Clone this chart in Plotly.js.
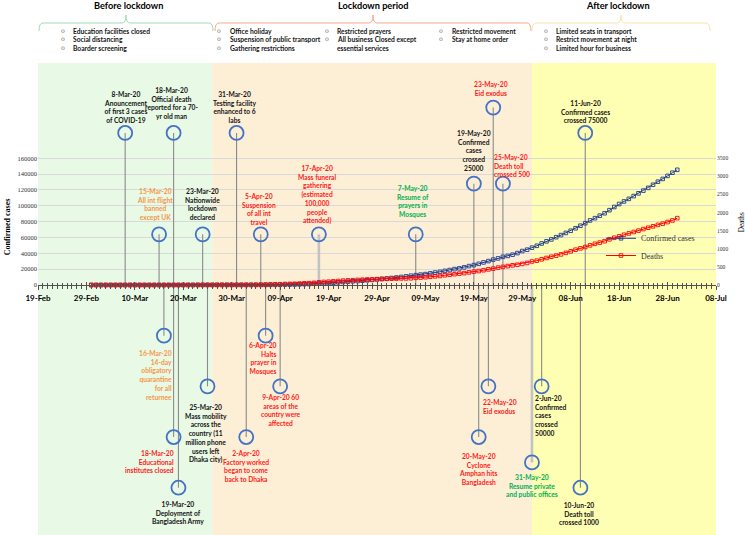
<!DOCTYPE html>
<html><head><meta charset="utf-8">
<script src="https://cdn.plot.ly/plotly-3.0.1.min.js"></script>
<style>html,body{margin:0;padding:0;background:#fff}#chart{width:745px;height:535px}</style>
</head><body><div id="chart"></div>
<script>
// ---------------- DATA ----------------
const seriesStart = '2020-03-01';
const confirmedCases = [
  0,0,0,0,0,0,0,
  3,3,3,3,3,3,3,
  5,8,10,14,17,20,24,
  27,33,39,39,44,48,48,48,49,51,
  54,56,61,70,88,123,164,218,330,424,
  482,621,803,1012,1231,1572,1838,2144,2456,2948,
  3382,3772,4186,4689,4998,5416,5913,6462,7103,7667,
  8238,8790,9455,10143,10929,11719,12425,13134,13770,14657,
  15691,16660,17822,18863,20065,20995,22268,23870,25121,26738,
  28511,30205,32078,33610,35585,36751,38292,40321,42844,44608,47153,
  49534,52445,55140,57563,60391,63026,65769,68504,71675,74865,
  78052,81523,84379,87520,90619,94481,98489,102292,105535,108775,
  112306,115786,119198,122660,126606,130474,133978,137787,141801,145483
];
const deaths = [
  0,0,0,0,0,0,0,0,0,0,0,0,0,0,0,0,0,
  1,1,1,2,2,3,4,5,5,5,5,5,5,5,
  6,6,6,8,9,12,17,20,21,27,
  30,34,39,46,50,60,75,84,91,101,
  110,120,127,131,140,145,152,155,163,168,
  170,175,177,182,183,186,199,206,214,228,
  239,250,269,283,298,314,328,349,370,386,
  408,432,452,480,501,522,544,559,582,610,650,
  672,709,746,781,811,846,888,930,975,1012,
  1049,1095,1139,1171,1209,1262,1305,1343,1388,1425,
  1464,1502,1545,1582,1621,1661,1695,1738,1783,1847
];
const seriesNames = ['Confirmed cases', 'Deaths'];
const axisStart = '2020-02-19';
const axisEnd = '2020-07-08';
const casesTicks = [0,20000,40000,60000,80000,100000,120000,140000,160000];
const deathsTicks = [0,500,1000,1500,2000,2500,3000,3500];
const yTitleLeft = 'Confirmed cases';
const yTitleRight = 'Deaths';

const phaseNames = ['Before lockdown', 'Lockdown period', 'After lockdown'];
const phaseBounds = ['2020-02-19', '2020-03-26', '2020-05-31', '2020-07-08'];
const measureColumns = [
  ['Education facilities closed', 'Social distancing', 'Boarder screening'],
  ['Office holiday', 'Suspension of public transport', 'Gathering restrictions'],
  ['Restricted prayers', 'All business Closed except', 'essential services'],
  ['Restricted movement', 'Stay at home order'],
  ['Limited seats in transport', 'Restrict movement at night', 'Limited hour for business']
];
const measureBulleted = [[1,1,1],[1,1,1],[1,1,0],[1,1],[1,1,1]];

const eventDates = [
  '2020-03-08','2020-03-18','2020-03-31','2020-06-11','2020-05-23',
  '2020-03-15','2020-03-24','2020-04-05','2020-04-17','2020-05-07',
  '2020-05-19','2020-05-25',
  '2020-03-16','2020-04-06','2020-03-25','2020-04-09','2020-05-22','2020-06-02',
  '2020-03-18','2020-04-02','2020-05-20','2020-05-31','2020-03-19','2020-06-10'
];
const eventLabels = [
  '8-Mar-20<br>Anouncement<br>of first 3 cases<br>of COVID-19',
  '18-Mar-20<br>Official death<br>reported for a 70-<br>yr old man',
  '31-Mar-20<br>Testing facility<br>enhanced to 6<br>labs',
  '11-Jun-20<br>Confirmed cases<br>crossed 75000',
  '23-May-20<br>Eid exodus',
  '15-Mar-20<br>All int flight<br>banned<br>except UK',
  '23-Mar-20<br>Nationwide<br>lockdown<br>declared',
  '5-Apr-20<br>Suspension<br>of all int<br>travel',
  '17-Apr-20<br>Mass funeral<br>gathering<br>(estimated<br>100,000<br>people<br>attended)',
  '7-May-20<br>Resume of<br>prayers in<br>Mosques',
  '19-May-20<br>Confirmed<br>cases<br>crossed<br>25000',
  '25-May-20<br>Death toll<br>crossed 500',
  '16-Mar-20<br>14-day<br>obligatory<br>quarantine<br>for all<br>returnee',
  '6-Apr-20<br>Halts<br>prayer in<br>Mosques',
  '25-Mar-20<br>Mass mobility<br>across the<br>country (11<br>million phone<br>users left<br>Dhaka city)',
  '9-Apr-20 60<br>areas of the<br>country were<br>affected',
  '22-May-20<br>Eid exodus',
  '2-Jun-20<br>Confirmed<br>cases<br>crossed<br>50000',
  '18-Mar-20<br>Educational<br>institutes closed',
  '2-Apr-20<br>Factory worked<br>began to come<br>back to Dhaka',
  '20-May-20<br>Cyclone<br>Amphan hits<br>Bangladesh',
  '31-May-20<br>Resume private<br>and public offices',
  '19-Mar-20<br>Deployment of<br>Bangladesh Army',
  '10-Jun-20<br>Death toll<br>crossed 1000'
];

// ---------------- LAYOUT / STYLE ----------------
const W = 745, H = 535;
const PL = 38, PR = 716, PT = 63, PB = 535;
const ZERO_PX = 285, TOPTICK_PX = 158.3;
const k = (ZERO_PX - TOPTICK_PX) / 160000;
const yRange = [-(PB - ZERO_PX) / k, (ZERO_PX - PT) / k];
const y2Range = yRange.map(v => v * 3500 / 160000);
const px = x => (x - PL) / (PR - PL);
const py = y => (PB - y) / (PB - PT);

const SANS = 'Lato, "Liberation Sans", Arial, sans-serif';
const SERIF = '"Liberation Serif", "Times New Roman", serif';
const C_BLACK = '#141414', C_RED = '#ff1a1a', C_ORANGE = '#f79646', C_GREEN = '#00b050';

// placement of each event: level (in cases-axis units), text gap px, anchor, xshift, colour, line style
const placement = [
  {lvl: 192000, gap: 9.4, anchor: 'center', dx: 0, color: C_BLACK},
  {lvl: 192000, gap: 12.7, anchor: 'center', dx: -2, color: C_BLACK},
  {lvl: 192000, gap: 9.4, anchor: 'center', dx: -2.5, color: C_BLACK},
  {lvl: 192000, gap: 9.4, anchor: 'center', dx: 0, color: C_BLACK},
  {lvl: 224000, gap: 11, anchor: 'center', dx: -2, color: C_RED},
  {lvl: 64000, gap: 13.3, anchor: 'center', dx: -4.5, color: C_ORANGE},
  {lvl: 64000, gap: 13.3, anchor: 'center', dx: 0, color: C_BLACK},
  {lvl: 64000, gap: 8.3, anchor: 'center', dx: -2, color: C_RED},
  {lvl: 64000, gap: 9.3, anchor: 'center', dx: -2, color: C_RED, thick: true},
  {lvl: 64000, gap: 16.7, anchor: 'center', dx: -2.5, color: C_GREEN},
  {lvl: 128000, gap: 11.6, anchor: 'center', dx: 0, color: C_BLACK},
  {lvl: 128000, gap: 6, anchor: 'left', dx: -9, color: C_RED},
  {lvl: -64000, gap: 13.3, anchor: 'right', dx: 8, color: C_ORANGE},
  {lvl: -64000, gap: 5.7, anchor: 'right', dx: 11.7, color: C_RED},
  {lvl: -128000, gap: 16.6, anchor: 'center', dx: -1.5, color: C_BLACK},
  {lvl: -128000, gap: 7, anchor: 'center', dx: 1, color: C_RED},
  {lvl: -128000, gap: 12, anchor: 'left', dx: -5.7, color: C_RED},
  {lvl: -128000, gap: 7.3, anchor: 'left', dx: -6.7, color: C_BLACK},
  {lvl: -192000, gap: 12, anchor: 'right', dx: 0.4, color: C_RED},
  {lvl: -192000, gap: 11.7, anchor: 'center', dx: 0, color: C_RED},
  {lvl: -192000, gap: 15.4, anchor: 'center', dx: 0, color: C_RED},
  {lvl: -224000, gap: 11, anchor: 'center', dx: 0, color: C_GREEN, thick: true},
  {lvl: -256000, gap: 12, anchor: 'center', dx: 0, color: C_BLACK},
  {lvl: -256000, gap: 13.3, anchor: 'center', dx: -1, color: C_BLACK}
];

const dates = confirmedCases.map((_, i) => {
  const [yy, mm, dd] = seriesStart.split('-').map(Number);
  return new Date(Date.UTC(yy, mm - 1, dd + i)).toISOString().slice(0, 10);
});

// event connector lines
function connector(thick) {
  const xs = [], ys = [];
  eventDates.forEach((d, i) => {
    if (!!placement[i].thick === thick) { xs.push(d, d, null); ys.push(0, placement[i].lvl, null); }
  });
  return {x: xs, y: ys, type: 'scatter', mode: 'lines', showlegend: false, hoverinfo: 'skip',
    line: thick ? {color: '#c3c3c3', width: 2.6} : {color: '#8a8a8a', width: 1.1}};
}

const traces = [
  connector(true), connector(false),
  {x: dates, y: confirmedCases, name: seriesNames[0], type: 'scatter', mode: 'lines+markers', yaxis: 'y', legend: 'legend',
   line: {color: '#1f3a8a', width: 1}, marker: {symbol: 'square-open', size: 3.6, color: '#1f3a8a', line: {width: 0.9}}},
  {x: dates, y: deaths, name: seriesNames[1], type: 'scatter', mode: 'lines+markers', yaxis: 'y2', legend: 'legend2',
   line: {color: '#ff0000', width: 1}, marker: {symbol: 'square-open', size: 3.6, color: '#ff0000', line: {width: 0.9}}},
  {x: eventDates, y: placement.map(p => p.lvl), type: 'scatter', mode: 'markers', showlegend: false, hoverinfo: 'skip',
   marker: {symbol: 'circle-open', size: 14, color: '#4472c4', line: {width: 1.8, color: '#4472c4'}}}
];

const shapes = [];
const bandColors = ['#e8f9e6', '#fdefd6', '#ffffb4'];
for (let i = 0; i < 3; i++) {
  shapes.push({type: 'rect', xref: 'x', yref: 'paper', x0: phaseBounds[i], x1: phaseBounds[i + 1], y0: 0, y1: 1,
    fillcolor: bandColors[i], line: {width: 0}, layer: 'below'});
}
// braces over phases
function brace(x0, x1, color) {
  const xc = (x0 + x1) / 2, yb = 23, ye = 31, yp = 15, r = 4;
  const P = (x, y) => px(x).toFixed(5) + ',' + py(y).toFixed(5);
  const path = `M${P(x0, ye)} Q${P(x0, yb)} ${P(x0 + r, yb)} L${P(xc - r, yb)} Q${P(xc, yb)} ${P(xc, yp)} Q${P(xc, yb)} ${P(xc + r, yb)} L${P(x1 - r, yb)} Q${P(x1, yb)} ${P(x1, ye)}`;
  shapes.push({type: 'path', xref: 'paper', yref: 'paper', path, line: {color, width: 1}});
}
brace(39, 213, '#9fdcb1');
brace(215, 531, '#f6a98e');
brace(532, 710, '#fbe3a9');

const annotations = [];
// event labels
eventDates.forEach((d, i) => {
  const p = placement[i];
  annotations.push({x: d, y: p.lvl, xref: 'x', yref: 'y', text: eventLabels[i], showarrow: false,
    xanchor: p.anchor, align: p.anchor, yanchor: p.lvl > 0 ? 'bottom' : 'top',
    xshift: p.dx, yshift: p.lvl > 0 ? p.gap : -p.gap, borderpad: 0, borderwidth: 0,
    font: {family: SANS, size: 6.7, color: p.color, weight: 700}});
});
// phase titles
const phaseTitleX = [128.3, 373, 618];
phaseNames.forEach((t, i) => annotations.push({x: px(phaseTitleX[i]), y: py(5.2), xref: 'paper', yref: 'paper',
  text: t, showarrow: false, xanchor: 'center', yanchor: 'middle',
  font: {family: SANS, size: 9.2, color: '#000', weight: 700}}));
// measures
const colBulletX = [62.7, 219, 326.7, 441, 545.7];
const rowY = [30.6, 39.2, 47.7];
measureColumns.forEach((col, c) => col.forEach((t, r) => {
  if (measureBulleted[c][r]) annotations.push({x: px(colBulletX[c]), y: py(rowY[r] - 0.5), xref: 'paper', yref: 'paper',
    text: 'o', showarrow: false, xanchor: 'center', yanchor: 'middle',
    font: {family: '"DejaVu Sans", sans-serif', size: 6.3, color: '#777'}});
  annotations.push({x: px(colBulletX[c] + 9.5), y: py(rowY[r]), xref: 'paper', yref: 'paper',
    text: t, showarrow: false, xanchor: 'left', yanchor: 'middle', borderpad: 0,
    font: {family: SANS, size: 6.7, color: '#141414', weight: 700}});
}));
// axis titles
annotations.push({x: px(8.3), y: py(227), xref: 'paper', yref: 'paper', text: yTitleLeft, textangle: -90,
  showarrow: false, xanchor: 'center', yanchor: 'middle', font: {family: SERIF, size: 8, color: '#000', weight: 700}});
annotations.push({x: px(741.5), y: py(221.7), xref: 'paper', yref: 'paper', text: yTitleRight, textangle: -90,
  showarrow: false, xanchor: 'center', yanchor: 'middle', font: {family: SERIF, size: 7.2, color: '#000'}});

const xCommon = {type: 'date', range: [axisStart, axisEnd], anchor: 'free', position: py(ZERO_PX),
  tick0: axisStart, dtick: 864000000, showgrid: false, zeroline: false, fixedrange: true};

const legendCommon = {x: px(601), xanchor: 'left', yanchor: 'middle', bgcolor: 'rgba(0,0,0,0)',
  font: {family: SERIF, size: 8, color: '#333'}, itemwidth: 30, tracegroupgap: 0};

const layout = {
  width: W, height: H,
  margin: {l: PL, r: W - PR, t: PT, b: H - PB, pad: 0},
  paper_bgcolor: '#ffffff', plot_bgcolor: 'rgba(0,0,0,0)',
  showlegend: true,
  legend: Object.assign({}, legendCommon, {y: py(238.3)}),
  legend2: Object.assign({}, legendCommon, {y: py(255.5)}),
  xaxis: Object.assign({}, xCommon, {
    showline: true, linecolor: '#505050', linewidth: 1,
    ticks: 'outside', ticklen: 4, tickcolor: '#505050', tickwidth: 1,
    tickformat: '%d-%b', ticklabelstandoff: 1,
    tickfont: {family: SANS, size: 8, color: '#000', weight: 700},
    minor: {dtick: 86400000, tick0: axisStart, ticks: 'outside', ticklen: 2.5, tickcolor: '#505050', tickwidth: 1, showgrid: false}
  }),
  xaxis2: Object.assign({}, xCommon, {overlaying: 'x', showline: false, showticklabels: false,
    ticks: 'inside', ticklen: 3.5, tickcolor: '#505050', tickwidth: 1,
    minor: {dtick: 86400000, tick0: axisStart, ticks: 'inside', ticklen: 2.5, tickcolor: '#505050', tickwidth: 1, showgrid: false}
  }),
  yaxis: {range: yRange, tickmode: 'array', tickvals: casesTicks, ticktext: casesTicks.map(String),
    showgrid: true, gridcolor: '#d9d9d9', gridwidth: 1, zeroline: false, showline: false, ticks: '',
    tickfont: {family: SERIF, size: 6.5, color: '#333'}, fixedrange: true},
  yaxis2: {range: y2Range, overlaying: 'y', side: 'right', tickmode: 'array', tickvals: deathsTicks,
    ticktext: deathsTicks.map(String), showgrid: false, zeroline: false, showline: false, ticks: '',
    tickfont: {family: SERIF, size: 5.6, color: '#333'}, fixedrange: true},
  shapes, annotations
};

// invisible trace on xaxis2 so the upper tick marks are drawn
traces.push({x: [axisStart], y: [0], xaxis: 'x2', type: 'scatter', mode: 'markers', marker: {opacity: 0}, showlegend: false, hoverinfo: 'skip'});

Plotly.newPlot('chart', traces, layout, {displayModeBar: false, staticPlot: true});
</script></body></html>
